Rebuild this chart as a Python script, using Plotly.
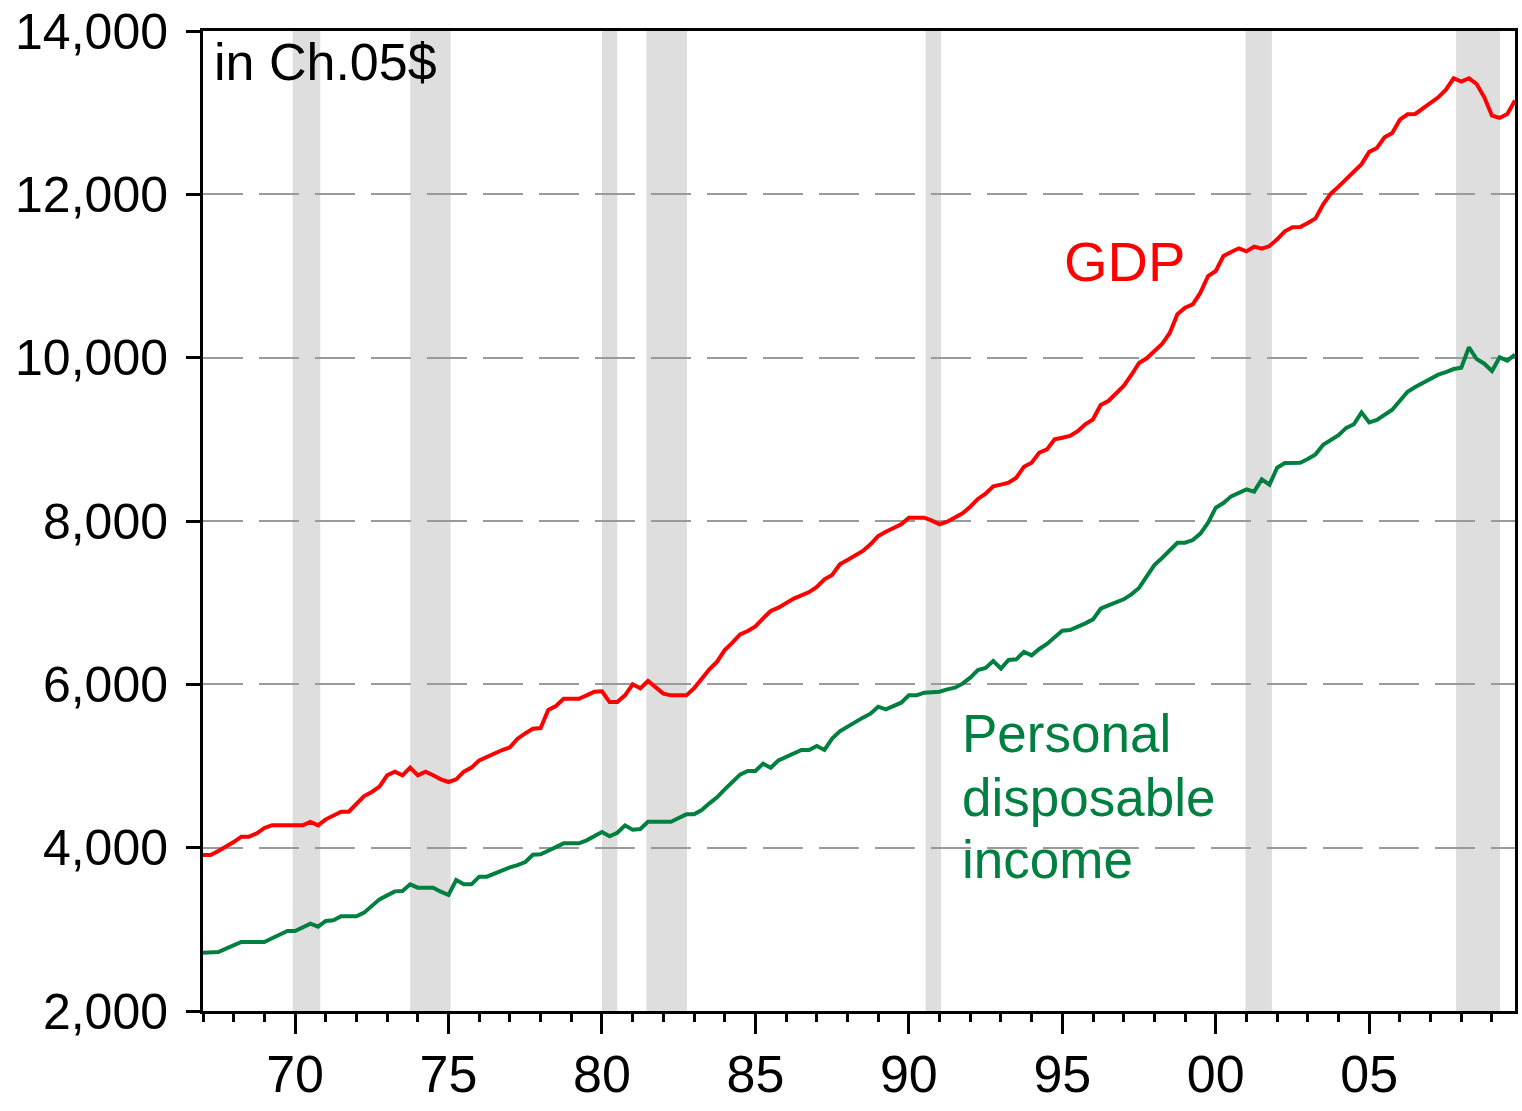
import plotly.graph_objects as go

# Quarterly dates 1967Q1 - 2009Q4
start_year = 1967

gdp = [
    3910, 3910, 3959, 4012,   # 1967
    4069, 4135, 4135, 4175,   # 1968
    4241, 4273, 4273, 4273,   # 1969
    4273, 4273, 4314, 4273,   # 1970
    4347, 4396, 4441, 4441,   # 1971
    4530, 4632, 4682, 4747,   # 1972
    4886, 4931, 4886, 4980,   # 1973
    4886, 4931, 4886, 4837,   # 1974
    4804, 4837, 4931, 4980,   # 1975
    5069, 5114, 5160, 5196,   # 1976
    5228, 5334, 5400, 5457,   # 1977
    5465, 5685, 5734, 5824,   # 1978
    5824, 5824, 5865, 5910,   # 1979
    5914, 5783, 5783, 5865,   # 1980
    6000, 5951, 6041, 5959,   # 1981
    5886, 5865, 5865, 5865,   # 1982
    5951, 6073, 6184, 6277,   # 1983
    6420, 6510, 6612, 6653,   # 1984
    6710, 6808, 6898, 6939,   # 1985
    7000, 7050, 7090, 7130,   # 1986
    7192, 7285, 7339, 7469,   # 1987
    7522, 7584, 7633, 7714,   # 1988
    7816, 7869, 7914, 7959,   # 1989
    8041, 8041, 8041, 8005,   # 1990
    7959, 7992, 8041, 8095,   # 1991
    8175, 8270, 8335, 8425,   # 1992
    8445, 8469, 8530, 8665,   # 1993
    8714, 8837, 8877, 9000,   # 1994
    9020, 9041, 9100, 9184,   # 1995
    9245, 9420, 9469, 9567,   # 1996
    9653, 9788, 9935, 9992,   # 1997
    10077, 10167, 10302, 10531,  # 1998
    10612, 10653, 10796, 11000,  # 1999
    11061, 11245, 11294, 11339,  # 2000
    11302, 11359, 11335, 11367,  # 2001
    11449, 11547, 11596, 11600,  # 2002
    11649, 11706, 11878, 12008,  # 2003
    12094, 12185, 12278, 12370,  # 2004
    12520, 12567, 12698, 12751,  # 2005
    12914, 12980, 12984, 13053,  # 2006
    13114, 13188, 13282, 13421,  # 2007
    13380, 13421, 13351, 13188,  # 2008
    12963, 12935, 12984, 13150,  # 2009
]

pdi = [
    2714, 2714, 2722, 2763,   # 1967
    2808, 2845, 2845, 2845,   # 1968
    2845, 2890, 2935, 2979,   # 1969
    2979, 3024, 3069, 3032,   # 1970
    3102, 3110, 3159, 3159,   # 1971
    3159, 3204, 3290, 3367,   # 1972
    3416, 3465, 3469, 3551,   # 1973
    3510, 3510, 3510, 3461,   # 1974
    3420, 3604, 3551, 3551,   # 1975
    3645, 3645, 3686, 3726,   # 1976
    3759, 3787, 3824, 3914,   # 1977
    3918, 3963, 4012, 4053,   # 1978
    4053, 4053, 4090, 4139,   # 1979
    4192, 4139, 4183, 4273,   # 1980
    4220, 4228, 4318, 4318,   # 1981
    4318, 4318, 4363, 4408,   # 1982
    4408, 4461, 4543, 4616,   # 1983
    4714, 4796, 4894, 4939,   # 1984
    4939, 5028, 4979, 5069,   # 1985
    5110, 5151, 5196, 5196,   # 1986
    5245, 5196, 5335, 5424,   # 1987
    5481, 5543, 5592, 5641,   # 1988
    5726, 5694, 5730, 5775,   # 1989
    5865, 5865, 5898, 5910,   # 1990
    5910, 5939, 5959, 6008,   # 1991
    6082, 6175, 6200, 6286,   # 1992
    6192, 6298, 6306, 6396,   # 1993
    6355, 6433, 6494, 6576,   # 1994
    6657, 6665, 6702, 6747,   # 1995
    6796, 6926, 6967, 7000,   # 1996
    7041, 7102, 7180, 7322,   # 1997
    7461, 7547, 7641, 7734,   # 1998
    7734, 7767, 7845, 7979,   # 1999
    8163, 8220, 8302, 8351,   # 2000
    8388, 8359, 8510, 8445,   # 2001
    8653, 8710, 8714, 8714,   # 2002
    8759, 8816, 8934, 8992,   # 2003
    9050, 9140, 9185, 9330,   # 2004
    9208, 9237, 9298, 9363,   # 2005
    9473, 9583, 9641, 9694,   # 2006
    9743, 9792, 9824, 9861,   # 2007
    9877, 10127, 9983, 9926,  # 2008
    9837, 10004, 9963, 10037,  # 2009
]

# Recession periods (decimal years)
rec_start = [1969.92, 1973.75, 1980.0, 1981.45, 1990.55, 2000.97, 2007.83]
rec_end = [1970.82, 1975.07, 1980.5, 1982.77, 1991.05, 2001.83, 2009.26]

major_ticks = [1970, 1975, 1980, 1985, 1990, 1995, 2000, 2005]
major_labels = ["70", "75", "80", "85", "90", "95", "00", "05"]
y_ticks = [2000, 4000, 6000, 8000, 10000, 12000, 14000]
y_labels = ["2,000", "4,000", "6,000", "8,000", "10,000", "12,000", "14,000"]

quarters = [start_year + i * 0.25 for i in range(len(gdp))]

FONT = "Liberation Sans, Arial, sans-serif"
RED = "#FF0000"
GREEN = "#008040"

fig = go.Figure()
fig.add_trace(go.Scatter(x=quarters, y=gdp, mode="lines",
                         line=dict(color=RED, width=4), name="GDP"))
fig.add_trace(go.Scatter(x=quarters, y=pdi, mode="lines",
                         line=dict(color=GREEN, width=4),
                         name="Personal disposable income"))

for s, e in zip(rec_start, rec_end):
    fig.add_shape(type="rect", xref="x", yref="paper", x0=s, x1=e, y0=0, y1=1,
                  fillcolor="#DEDEDE", line=dict(width=0), layer="below")

fig.add_annotation(x=1967.28, y=13620, xref="x", yref="y", text="in Ch.05$",
                   showarrow=False, xanchor="left", yanchor="middle",
                   font=dict(family=FONT, size=52, color="black"))
fig.add_annotation(x=1995.0, y=11180, xref="x", yref="y", text="GDP",
                   showarrow=False, xanchor="left", yanchor="middle",
                   font=dict(family=FONT, size=56, color=RED))
for txt, yv in zip(["Personal", "disposable", "income"], [5400, 4620, 3860]):
    fig.add_annotation(x=1991.65, y=yv, xref="x", yref="y", text=txt,
                       showarrow=False, xanchor="left", yanchor="middle",
                       font=dict(family=FONT, size=53, color=GREEN))

fig.update_layout(
    width=1522, height=1111,
    margin=dict(l=203, r=7, t=31, b=100, autoexpand=False),
    paper_bgcolor="white", plot_bgcolor="white",
    showlegend=False,
    font=dict(family=FONT, size=48, color="black"),
)

fig.update_xaxes(
    range=[1967, 2009.75],
    tickmode="array", tickvals=major_ticks, ticktext=major_labels,
    ticks="outside", ticklen=20, tickwidth=2.5, tickcolor="black",
    minor=dict(ticks="outside", ticklen=8, tickwidth=2.5, tickcolor="black",
               tickmode="linear", tick0=1967, dtick=1, showgrid=False),
    showline=True, linewidth=3, linecolor="black", mirror=True,
    showgrid=False, zeroline=False, automargin=False,
    tickfont=dict(family=FONT, size=52, color="black"),
    ticklabelstandoff=-4, ticklabeloverflow="allow",
)
fig.update_yaxes(
    range=[2000, 14000],
    tickmode="array", tickvals=y_ticks, ticktext=y_labels,
    ticks="outside", ticklen=14, tickwidth=2.5, tickcolor="black",
    showline=True, linewidth=3, linecolor="black", mirror=True,
    showgrid=True, gridcolor="#9a9a9a", gridwidth=1.5, griddash="40px,16px",
    zeroline=False, automargin=False,
    tickfont=dict(family=FONT, size=50, color="black"),
    ticklabelstandoff=8, ticklabeloverflow="allow",
)

fig.write_html("out.html",
               config={"displayModeBar": False},
               post_script="document.body.style.margin='0px';")
